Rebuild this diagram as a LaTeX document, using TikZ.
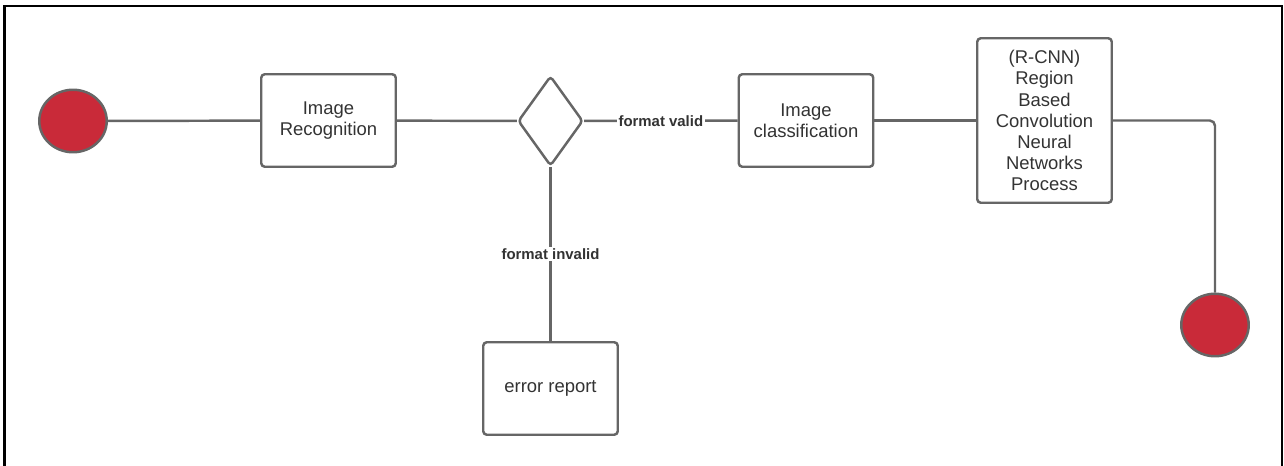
\documentclass[tikz,border=0pt]{standalone}
\usepackage{fontspec}
\setmainfont{Liberation Sans}
\usetikzlibrary{shapes.geometric}
\definecolor{edgegray}{RGB}{102,102,102}
\definecolor{textgray}{RGB}{51,51,51}
\definecolor{dotred}{RGB}{201,42,57}
\tikzset{
  terminal/.style={draw=edgegray, fill=dotred, ellipse, line width=1.4pt,
                   minimum width=1.35cm, minimum height=1.25cm, inner sep=0pt},
  stepbox/.style={draw=edgegray, rounded corners=2pt, line width=1.4pt,
                  align=center, text=textgray, minimum width=2.69cm,
                  minimum height=1.85cm, inner sep=2pt,
                  font=\fontsize{10.5}{12}\selectfont},
  choice/.style={draw=edgegray, diamond, rounded corners=2pt, line width=1.4pt,
                 minimum width=1.3cm, minimum height=1.8cm, inner sep=0pt},
  flow/.style={draw=edgegray, line width=1.4pt},
  glab/.style={midway, fill=white, inner sep=1pt, text=textgray,
               font=\fontsize{8.5}{10}\selectfont\bfseries},
}

\begin{document}
\begin{tikzpicture}

\useasboundingbox (0,0) rectangle (25.68,9.32);
% outer frame, open at the bottom
\draw[line width=1.6pt] (0.09,0) -- (0.09,9.20) -- (25.64,9.20) -- (25.64,0);

% nodes
\node[terminal] (start) at (1.46,6.90) {};
\node[stepbox] (recog) at (6.57,6.91) {Image\\Recognition};
\node[choice] (check) at (11.01,6.90) {};
\node[stepbox] (classify) at (16.12,6.91) {Image\\classification};
\node[stepbox, minimum height=3.29cm] (rcnn) at (20.89,6.91)
  {(R-CNN)\\Region\\Based\\Convolution\\Neural\\Networks\\Process};
\node[stepbox] (error) at (11.01,1.55) {error report};
\node[terminal] (stop) at (24.30,2.82) {};

% connectors
\draw[flow] (start) -- (recog);
\draw[flow] (recog) -- (check);
\draw[flow] (check) -- node[glab] {format valid} (classify);
\draw[flow] (check) -- node[glab] {format invalid} (error);
\draw[flow] (classify) -- (rcnn);
\draw[flow, rounded corners=3pt] (rcnn.east) -| (stop.north);

\end{tikzpicture}
\end{document}
